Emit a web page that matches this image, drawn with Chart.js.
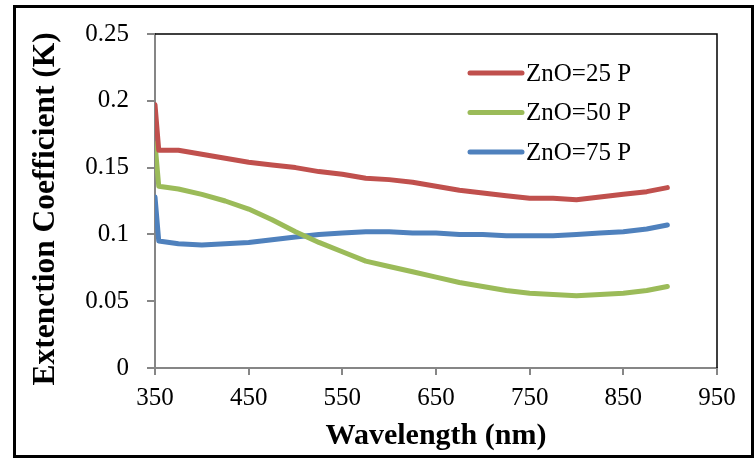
<!DOCTYPE html>
<html>
<head>
<meta charset="utf-8">
<script src="https://cdn.jsdelivr.net/npm/chart.js@4"></script>
<style>
  body { margin: 0; background: #fff; }
  #wrap { width: 756px; height: 459px; position: relative; }
</style>
</head>
<body>
<div id="wrap"><canvas id="chart"></canvas></div>
<script>
// wavelengths (nm)
const wavelength = [350, 354, 375, 400, 425, 450, 475, 500, 525, 550, 575, 600, 625, 650, 675, 700, 725, 750, 775, 800, 825, 850, 875, 897];

// extinction coefficient K for each sample
const zno25 = [0.197, 0.163, 0.163, 0.160, 0.157, 0.154, 0.152, 0.150, 0.147, 0.145, 0.142, 0.141, 0.139, 0.136, 0.133, 0.131, 0.129, 0.127, 0.127, 0.126, 0.128, 0.130, 0.132, 0.135];
const zno50 = [0.168, 0.136, 0.134, 0.130, 0.125, 0.119, 0.111, 0.102, 0.094, 0.087, 0.080, 0.076, 0.072, 0.068, 0.064, 0.061, 0.058, 0.056, 0.055, 0.054, 0.055, 0.056, 0.058, 0.061];
const zno75 = [0.128, 0.095, 0.093, 0.092, 0.093, 0.094, 0.096, 0.098, 0.100, 0.101, 0.102, 0.102, 0.101, 0.101, 0.100, 0.100, 0.099, 0.099, 0.099, 0.100, 0.101, 0.102, 0.104, 0.107];

const seriesLabels = ['ZnO=25 P', 'ZnO=50 P', 'ZnO=75 P'];
const seriesColors = ['#C0504D', '#9BBB59', '#4F81BD'];

const xTicks = [350, 450, 550, 650, 750, 850, 950];
const yTicks = [0, 0.05, 0.1, 0.15, 0.2, 0.25];

const serif = "'Liberation Serif', 'Times New Roman', serif";

function toPoints(ys) {
  return ys.map((y, i) => ({ x: wavelength[i], y: y }));
}

// frame round the picture, black top/right edge of the plot, and the legend inside the plot
const decor = {
  id: 'decor',
  afterDraw(chart) {
    const ctx = chart.ctx;
    const a = chart.chartArea;
    ctx.save();
    ctx.strokeStyle = '#000';
    ctx.lineWidth = 1.5;
    ctx.beginPath();
    ctx.moveTo(a.left, a.top);
    ctx.lineTo(a.right, a.top);
    ctx.lineTo(a.right, a.bottom);
    ctx.stroke();

    ctx.lineWidth = 3;
    ctx.strokeRect(14.5, 6.5, 738, 450);

    // legend
    ctx.font = '25px ' + serif;
    ctx.textBaseline = 'middle';
    ctx.lineCap = 'round';
    chart.data.datasets.forEach((ds, i) => {
      const y = 73 + i * 39.5;
      ctx.strokeStyle = ds.borderColor;
      ctx.lineWidth = 5;
      ctx.beginPath();
      ctx.moveTo(470, y);
      ctx.lineTo(522, y);
      ctx.stroke();
      ctx.fillStyle = '#000';
      ctx.fillText(ds.label, 526, y + 1);
    });
    ctx.restore();
  }
};

new Chart(document.getElementById('chart'), {
  type: 'line',
  data: {
    datasets: [
      { label: seriesLabels[0], data: toPoints(zno25), borderColor: seriesColors[0] },
      { label: seriesLabels[1], data: toPoints(zno50), borderColor: seriesColors[1] },
      { label: seriesLabels[2], data: toPoints(zno75), borderColor: seriesColors[2] }
    ]
  },
  options: {
    responsive: true,
    maintainAspectRatio: false,
    animation: false,
    layout: { padding: { top: 34, right: 39, left: 0, bottom: 0 } },
    elements: {
      line: { borderWidth: 5, tension: 0, borderCapStyle: 'round', borderJoinStyle: 'round' },
      point: { radius: 0 }
    },
    plugins: {
      legend: { display: false },
      tooltip: { enabled: false }
    },
    scales: {
      x: {
        type: 'linear',
        min: 350,
        max: 950,
        afterFit(scale) { scale.height = 91; },
        afterBuildTicks(scale) { scale.ticks = xTicks.map(v => ({ value: v })); },
        ticks: { color: '#000', font: { family: serif, size: 25 }, padding: 8, maxRotation: 0 },
        grid: { drawOnChartArea: false, drawTicks: true, tickLength: 7, color: '#868686', lineWidth: 2 },
        border: { color: '#868686', width: 2 },
        title: {
          display: true,
          text: 'Wavelength (nm)',
          color: '#000',
          font: { family: serif, size: 30, weight: 'bold' },
          padding: { top: 0, bottom: 5 }
        }
      },
      y: {
        min: 0,
        max: 0.25,
        afterFit(scale) { scale.width = 155; },
        afterBuildTicks(scale) { scale.ticks = yTicks.map(v => ({ value: v })); },
        ticks: { color: '#000', font: { family: serif, size: 25 }, padding: 18,
          callback: v => String(Math.round(v * 100) / 100) },
        grid: { drawOnChartArea: false, drawTicks: true, tickLength: 8, color: '#868686', lineWidth: 2 },
        border: { color: '#868686', width: 2 },
        title: {
          display: true,
          text: 'Extenction Coefficient (K)  ',
          color: '#000',
          font: { family: serif, size: 31.5, weight: 'bold' },
          padding: { top: 27, bottom: 0 }
        }
      }
    }
  },
  plugins: [decor]
});
</script>
</body>
</html>
